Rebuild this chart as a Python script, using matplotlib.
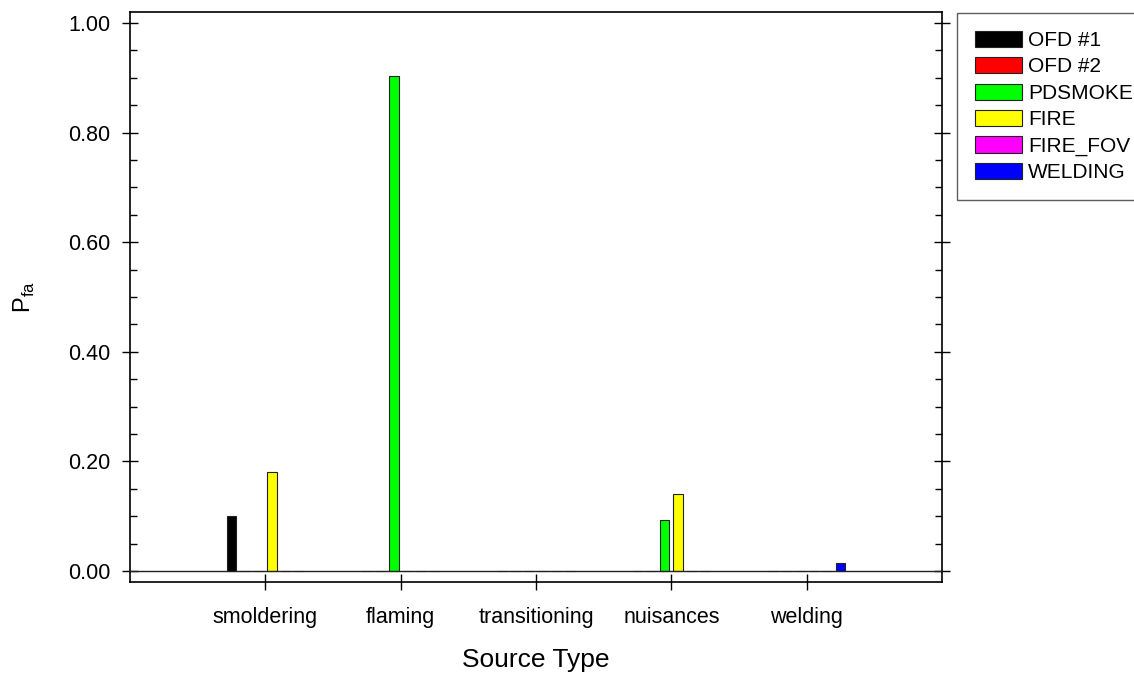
import matplotlib
matplotlib.use("Agg")
import matplotlib.pyplot as plt
import numpy as np
from matplotlib.ticker import MultipleLocator

plt.rcParams['font.family'] = ['Liberation Sans', 'DejaVu Sans']

categories = ["smoldering", "flaming", "transitioning", "nuisances", "welding"]
series = ["OFD #1", "OFD #2", "PDSMOKE", "FIRE", "FIRE_FOV", "WELDING"]
colors = ["#000000", "#ff0000", "#00ff00", "#ffff00", "#ff00ff", "#0000ff"]
values = {
    "OFD #1":   [0.10, 0.0, 0.0, 0.0, 0.0],
    "OFD #2":   [0.0, 0.0, 0.0, 0.0, 0.0],
    "PDSMOKE":  [0.0, 0.903, 0.0, 0.093, 0.0],
    "FIRE":     [0.18, 0.0, 0.0, 0.14, 0.0],
    "FIRE_FOV": [0.0, 0.0, 0.0, 0.0, 0.0],
    "WELDING":  [0.0, 0.0, 0.0, 0.0, 0.015],
}
yticks = [0.0, 0.2, 0.4, 0.6, 0.8, 1.0]

fig = plt.figure(figsize=(11.34, 6.75), dpi=100)
ax = fig.add_axes([130/1134, 1-582/675, (942-130)/1134, (582-12)/675])

x = np.arange(1, len(categories) + 1)
slot = 0.1
width = 0.07
for i, (name, col) in enumerate(zip(series, colors)):
    off = (i - 2.5) * slot
    vals = np.array(values[name])
    ax.bar(x + off, vals, width=width, color=col, edgecolor="#222222",
           linewidth=0.8, label=name, zorder=3)

ax.axhline(0, color="#222222", linewidth=1.0, zorder=4)
ax.set_xlim(0, 6)
ax.set_ylim(-0.02, 1.02)
ax.set_xticks(x)
ax.set_xticklabels(categories)
ax.yaxis.set_minor_locator(MultipleLocator(0.05))
ax.set_yticks(yticks)
ax.set_yticklabels([f"{v:.2f}" for v in yticks])
ax.tick_params(axis='both', which='major', direction='inout', length=11.5, width=1.0,
               labelsize=15.5, right=True)
ax.tick_params(axis='y', which='major', pad=8.5)
ax.tick_params(axis='x', which='major', pad=12)
ax.tick_params(axis='y', which='minor', direction='in', length=5, width=1.0, right=True)
for s in ax.spines.values():
    s.set_linewidth(1.2)

ax.set_xlabel("Source Type", fontsize=19, labelpad=15)
ax.set_ylabel(r"P$_{\mathregular{fa}}$", fontsize=17, labelpad=22)

leg = ax.legend(loc="upper left", bbox_to_anchor=(957/1134, 1-13/675),
                bbox_transform=fig.transFigure, fontsize=15, frameon=True,
                fancybox=False, edgecolor="#333333", handlelength=2.25,
                handleheight=0.82, labelspacing=0.34, borderpad=0.85,
                handletextpad=0.3, borderaxespad=0)
leg.get_frame().set_linewidth(1.0)

fig.savefig("out.png", dpi=100)
